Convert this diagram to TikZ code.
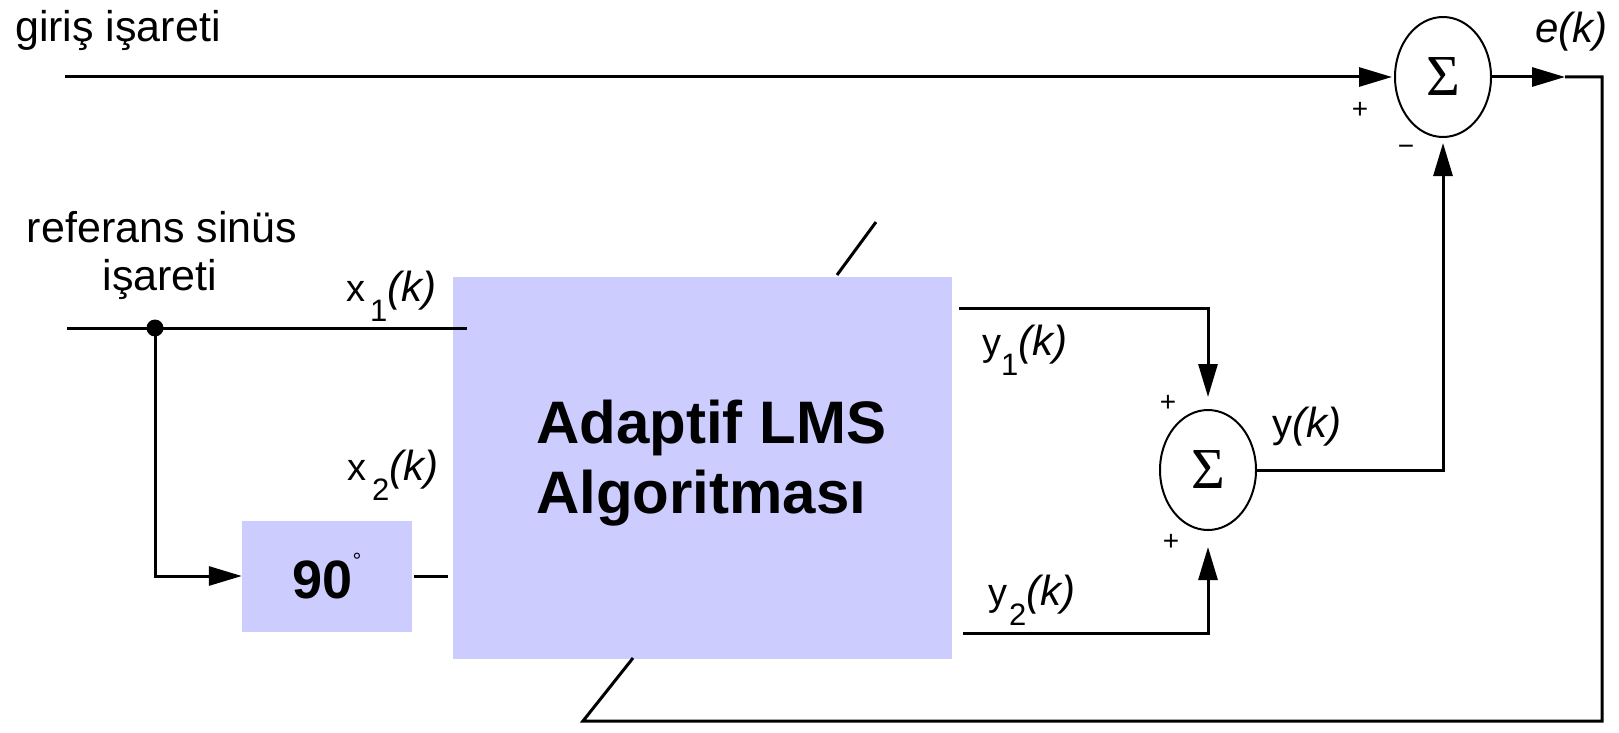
\documentclass[tikz,border=0pt]{standalone}
\usepackage{fontspec}
\setmainfont{Liberation Sans}
\newfontfamily\grkserif{Liberation Serif}
\usetikzlibrary{shapes.geometric,arrows.meta}
\definecolor{lmsblue}{HTML}{CCCCFF}
\newcommand{\sigl}[3]{{\fontsize{38}{38}\selectfont #1}\hspace{#3}\raisebox{-20pt}{\fontsize{31}{31}\selectfont #2}{\fontsize{42}{42}\selectfont\itshape (k)}}
\begin{document}
\begin{tikzpicture}[x=1pt,y=-1pt,
  wire/.style={line width=3pt},
  arr/.style={wire,-{Triangle[length=33pt,width=19pt]}},
  sumnode/.style={ellipse,draw,line width=2pt,minimum width=96pt,minimum height=120pt,inner sep=0pt,font=\grkserif\fontsize{58}{58}\selectfont},
  blk/.style={fill=lmsblue,draw=none,inner sep=0pt},
  txt/.style={font=\fontsize{43}{43}\selectfont,inner sep=0pt},
  lab/.style={inner sep=0pt,anchor=base west},
  sgn/.style={font=\fontsize{28}{28}\selectfont,inner sep=0pt}]
\useasboundingbox (0,0) rectangle (1619,733);

% blocks
\node[blk,minimum width=499pt,minimum height=382pt] (lms) at (702.5,468) {};
\node[lab,font=\bfseries\fontsize{60}{70}\selectfont,align=left] (lmstext) at (536,513) {Adaptif LMS\\Algoritması};
\node[blk,minimum width=170pt,minimum height=111pt,font=\bfseries\fontsize{54}{54}\selectfont] (ph) at (327,576) {90\raisebox{30pt}{\mdseries\fontsize{22}{22}\selectfont °}};

\node[sumnode] (sum1) at (1443,77) {Σ};
\node[sumnode] (sum2) at (1208,470) {Σ};

% coordinates
\coordinate (girisin) at (65,77);
\coordinate (refin) at (67,328);
\coordinate (x1end) at (467,328);
\coordinate (x2end) at (448,576);
\coordinate (y1s) at (959,308);
\coordinate (y2s) at (963,633);
\coordinate (eout) at (1565,77);
\coordinate (fbR) at (1602,77);
\coordinate (fbB) at (1602,721);
\coordinate (fbL) at (583,721);
\coordinate (slashA) at (633,658);
\coordinate (slashB) at (837,275);
\coordinate (slashC) at (876,222);

\node[circle,fill,inner sep=0pt,minimum size=17pt] (dot) at (155,328) {};

% wires
\draw[arr,shorten >=2pt] (girisin) -- (sum1.west);
\draw[arr] (sum1.east) -- (eout);
\draw[wire,line join=miter] (eout) -- (fbR) -- (fbB) -- (fbL) -- (slashA);
\draw[wire] (slashB) -- (slashC);
\draw[wire] (refin) -- (x1end);
\draw[arr] (dot.center) |- (ph.west);
\draw[wire,shorten <=2pt] (ph.east) -- (x2end);
\draw[arr,shorten >=12pt] (y1s) -| (sum2.north);
\draw[arr,shorten >=16pt] (y2s) -| (sum2.south);
\draw[arr,shorten >=5pt] (sum2.east) -| (sum1.south);

% labels
\node[txt,anchor=base west] (lgiris) at (15,42) {giriş işareti};
\node[txt,anchor=base] (lref1) at (162,242) {referans sinüs};
\node[txt,anchor=base] (lref2) at (160,290) {işareti};
\node[lab] (lx1) at (346,301) {\sigl{x}{1}{5pt}};
\node[lab] (lx2) at (347,480) {\sigl{x}{2}{6pt}};
\node[lab] (ly1) at (982,355) {\sigl{y}{1}{0pt}};
\node[lab] (ly2) at (988,605) {\sigl{y}{2}{2pt}};
\node[lab] (ly) at (1272,437) {{\fontsize{40}{40}\selectfont y}{\fontsize{42}{42}\selectfont\itshape (k)}};
\node[lab,font=\fontsize{42}{42}\selectfont\itshape] (le) at (1535,43) {e(k)};

\node[sgn] (p1) at (1360,110) {+};
\node[sgn] (m1) at (1406,150) {−};
\node[sgn] (p2) at (1168,403) {+};
\node[sgn] (p3) at (1171,542) {+};
\end{tikzpicture}
\end{document}
